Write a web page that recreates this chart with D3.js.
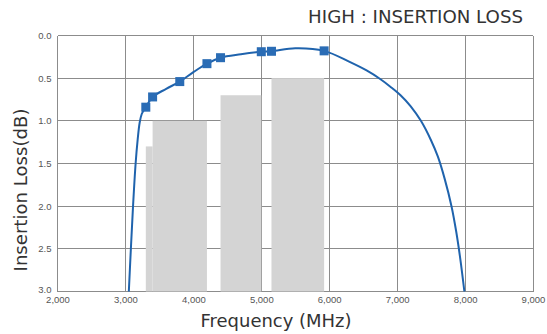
<!DOCTYPE html>
<html><head><meta charset="utf-8">
<script src="https://cdn.jsdelivr.net/npm/d3@7"></script>
<style>body{margin:0;background:#fff;} svg{display:block;}</style>
</head><body>
<svg id="c" width="547" height="334"></svg>
<script>
const title = "HIGH : INSERTION LOSS";
const xLabel = "Frequency (MHz)";
const yLabel = "Insertion Loss(dB)";
const xTicks = [2000,3000,4000,5000,6000,7000,8000,9000];
const yTicks = [0,0.5,1.0,1.5,2.0,2.5,3.0];
// spec mask bars: start freq, end freq, loss limit
const barStart = [3300, 3400, 4400, 5150];
const barEnd   = [3400, 4200, 5000, 5925];
const barLoss  = [1.3, 1.0, 0.7, 0.5];
// measured curve
const curveFreq = [3050,3080,3112,3150,3180,3210,3240,3270,3300,3400,3600,3800,4000,4200,4400,4700,5000,5150,5500,5925,6300,6550,6750,6900,7050,7200,7350,7500,7600,7700,7800,7870,7930,7990];
const curveLoss = [3.0,2.5,2.0,1.5,1.22,1.02,0.92,0.875,0.84,0.72,0.625,0.54,0.43,0.33,0.26,0.22,0.19,0.185,0.15,0.18,0.31,0.41,0.51,0.60,0.70,0.83,1.0,1.23,1.42,1.68,2.0,2.3,2.62,3.0];
// marker points
const markFreq = [3300,3400,3800,4200,4400,5000,5150,5925];
const markLoss = [0.84,0.72,0.54,0.33,0.26,0.19,0.185,0.18];

const svg = d3.select("#c");
const L=57.5, R=533, T=35.5, B=291.5;
const x = d3.scaleLinear().domain([2000,9000]).range([L,R]);
const y = d3.scaleLinear().domain([0,3]).range([T,B]);
const font = "Tahoma, 'DejaVu Sans', Verdana, sans-serif";
const tickFont = "Tahoma, 'Liberation Sans', Arial, sans-serif";

// grid
const g = svg.append("g");
g.selectAll(".vx").data(xTicks).join("line")
 .attr("x1",d=>x(d)).attr("x2",d=>x(d)).attr("y1",T).attr("y2",B)
 .attr("stroke","#8c8c8c").attr("stroke-width",1).attr("shape-rendering","crispEdges");
g.selectAll(".hy").data(yTicks).join("line")
 .attr("x1",L).attr("x2",R).attr("y1",d=>y(d)).attr("y2",d=>y(d))
 .attr("stroke","#8c8c8c").attr("stroke-width",1).attr("shape-rendering","crispEdges");

// bars
svg.append("g").selectAll("rect").data(barStart.map((s,i)=>({s,e:barEnd[i],v:barLoss[i]}))).join("rect")
 .attr("x",d=>x(d.s)).attr("width",d=>x(d.e)-x(d.s))
 .attr("y",d=>y(d.v)).attr("height",d=>B-y(d.v))
 .attr("fill","#d4d4d4");

// axes labels via d3 axes (no lines)
const xa = svg.append("g").attr("transform",`translate(0,${B})`)
 .call(d3.axisBottom(x).tickValues(xTicks).tickFormat(d3.format(",")).tickSize(0).tickPadding(5));
xa.select(".domain").remove();
xa.selectAll("text").attr("font-family",tickFont).attr("font-size",9.5).attr("fill","#555");
const ya = svg.append("g").attr("transform",`translate(${L},0)`)
 .call(d3.axisLeft(y).tickValues(yTicks).tickFormat(d3.format(".1f")).tickSize(0).tickPadding(6));
ya.select(".domain").remove();
ya.selectAll("text").attr("font-family",tickFont).attr("font-size",9.5).attr("fill","#555");
ya.selectAll(".tick").filter(d=>d===3).select("text").attr("dy","0.1em");

// curve
const pts = curveFreq.map((f,i)=>[f,curveLoss[i]]);
svg.append("path").datum(pts)
 .attr("d",d3.line().x(d=>x(d[0])).y(d=>y(d[1])).curve(d3.curveCatmullRom.alpha(0.5)))
 .attr("fill","none").attr("stroke","#1f63ad").attr("stroke-width",2);

// markers
svg.append("g").selectAll("rect").data(markFreq.map((f,i)=>[f,markLoss[i]])).join("rect")
 .attr("x",d=>x(d[0])-4.5).attr("y",d=>y(d[1])-4.5).attr("width",9).attr("height",9)
 .attr("fill","#2a6cb5");

// fit text to a target width
function fit(sel, w){
  const n = sel.node(); let fs = +sel.attr("font-size");
  const len = n.getComputedTextLength();
  if (len>0) sel.attr("font-size", (fs*w/len).toFixed(2));
}
// titles
fit(svg.append("text").attr("x",523).attr("y",23).attr("text-anchor","end")
 .attr("font-family",font).attr("font-size",15).attr("fill","#333").text(title), 215);
fit(svg.append("text").attr("x",276).attr("y",327).attr("text-anchor","middle")
 .attr("font-family",font).attr("font-size",16).attr("fill","#333").text(xLabel), 151);
fit(svg.append("text").attr("transform",`translate(27,190) rotate(-90)`).attr("text-anchor","middle")
 .attr("font-family",font).attr("font-size",16).attr("fill","#333").text(yLabel), 163);
</script>
</body></html>
